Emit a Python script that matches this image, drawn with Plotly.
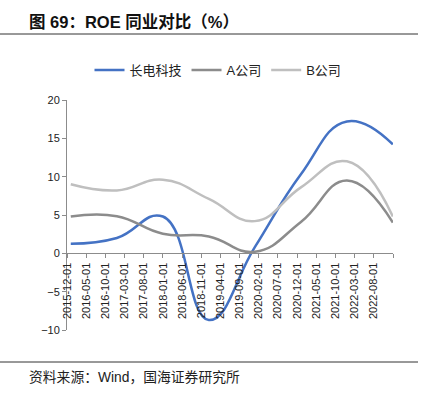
import plotly.graph_objects as go

# ---- data ----
report_dates = ["2015-12-31", "2016-12-31", "2017-12-31", "2018-12-31",
                "2019-12-31", "2020-12-31", "2021-12-31", "2022-12-31"]
roe_changdian = [1.25, 2.0, 4.8, -8.7, 0.8, 10.3, 17.2, 14.2]
roe_a = [4.8, 4.85, 2.55, 2.2, 0.2, 4.1, 9.5, 4.0]
roe_b = [9.0, 8.2, 9.6, 7.1, 4.2, 8.6, 12.0, 4.8]
series_names = ["长电科技", "A公司", "B公司"]
tick_labels = ["2015-12-01", "2016-05-01", "2016-10-01", "2017-03-01", "2017-08-01",
               "2018-01-01", "2018-06-01", "2018-11-01", "2019-04-01", "2019-09-01",
               "2020-02-01", "2020-07-01", "2020-12-01", "2021-05-01", "2021-10-01",
               "2022-03-01", "2022-08-01"]
axis_end = "2023-01-01"
title_text = "图 69：ROE 同业对比（%）"
source_text = "资料来源：Wind，国海证券研究所"

colors = ["#4472C4", "#8C8C8C", "#BFBFBF"]
FONT = "Arial, 'Liberation Sans', 'Noto Sans CJK SC', sans-serif"

fig = go.Figure()
for name, vals, c in zip(series_names, [roe_changdian, roe_a, roe_b], colors):
    fig.add_trace(go.Scatter(
        x=report_dates, y=vals, name=name, mode="lines",
        line=dict(color=c, width=2.5, shape="spline", smoothing=1.3),
    ))

# plot area: x 67..393, y 100..330 px
L, R, T, B = 67, 47, 100, 66
W, H = 440, 396
pw, ph = W - L - R, H - T - B

def px_x(p):
    return (p - L) / pw

def px_y(p):
    return (H - B - p) / ph

fig.update_layout(
    width=W, height=H,
    margin=dict(l=L, r=R, t=T, b=B),
    paper_bgcolor="white", plot_bgcolor="white",
    font=dict(family=FONT, size=11, color="#222"),
    showlegend=True,
    legend=dict(orientation="h", x=px_x(218), xanchor="center",
                y=px_y(70), yanchor="middle",
                font=dict(size=13, color="#222"),
                itemwidth=30, tracegroupgap=0, bgcolor="rgba(0,0,0,0)"),
    xaxis=dict(
        type="date", range=[tick_labels[0], axis_end],
        tickvals=tick_labels + [axis_end], ticktext=tick_labels + [""],
        tickangle=-90, ticks="outside", ticklen=4, tickcolor="#8c8c8c",
        showline=True, linecolor="#8c8c8c", linewidth=1,
        showgrid=False, zeroline=False,
        anchor="free", position=1/3,
        tickfont=dict(size=11, color="#222"),
    ),
    yaxis=dict(
        range=[-10, 20], dtick=5, tick0=0, domain=[0, 1],
        ticks="outside", ticklen=4, tickcolor="#8c8c8c",
        showline=True, linecolor="#8c8c8c", linewidth=1,
        showgrid=False, zeroline=False,
        tickfont=dict(size=11, color="#222"),
    ),
)

# title and source
fig.add_annotation(text="<b>" + title_text + "</b>", xref="paper", yref="paper",
                   x=px_x(27), y=px_y(22), xanchor="left", yanchor="middle",
                   showarrow=False, font=dict(size=16.5, color="#111", family=FONT))
fig.add_annotation(text=source_text, xref="paper", yref="paper",
                   x=px_x(27), y=px_y(377), xanchor="left", yanchor="middle",
                   showarrow=False, font=dict(size=13.8, color="#222", family=FONT))
for yy in (34, 362):
    fig.add_shape(type="line", xref="paper", yref="paper",
                  x0=px_x(0), x1=px_x(418), y0=px_y(yy), y1=px_y(yy),
                  line=dict(color="#333", width=1))

fig.write_html("out.html", config={"displayModeBar": False},
               post_script="document.body.style.margin='0';")
